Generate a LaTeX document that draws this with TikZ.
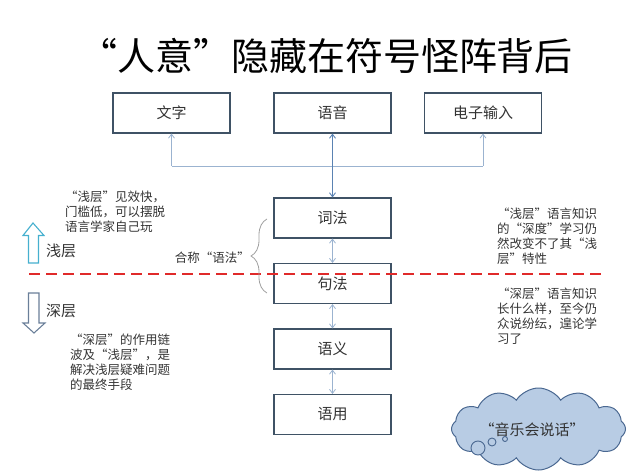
\documentclass[tikz,border=0pt]{standalone}
\usepackage{fontspec}
\setmainfont{Noto Sans CJK SC}
\usetikzlibrary{arrows.meta,shapes.symbols,decorations.pathreplacing}
\definecolor{boxline}{HTML}{3F5265}
\definecolor{connlight}{HTML}{9BB3D0}
\definecolor{connmid}{HTML}{5A82B2}
\definecolor{reddash}{HTML}{E02A2A}
\definecolor{uparrow}{HTML}{46B0CF}
\definecolor{downarrow}{HTML}{6A7F99}
\definecolor{bracecol}{HTML}{A0A0A0}
\definecolor{cloudfill}{HTML}{B8CCE4}
\definecolor{cloudline}{HTML}{4A6891}
\definecolor{txt}{HTML}{333333}
\tikzset{
  stagebox/.style={draw=boxline, line width=1.1pt, fill=white, minimum width=117pt, minimum height=40pt, inner sep=0pt, font=\fontsize{15}{16}\selectfont, text=txt},
  conn/.style={draw=connlight, line width=0.8pt},
  tipup/.style={-{Straight Barb[length=4pt,width=6pt]}},
  dbl/.style={{Straight Barb[length=4pt,width=6pt]}-{Straight Barb[length=4pt,width=6pt]}},
  sidetext/.style={anchor=north west, inner sep=0pt, align=left, font=\fontsize{12.5}{15}\selectfont, text=txt},
  layerlabel/.style={anchor=west, inner sep=0pt, font=\fontsize{15}{16}\selectfont, text=txt},
}
\begin{document}
\begin{tikzpicture}[x=1pt,y=-1pt]
\useasboundingbox (0,0) rectangle (640,476);
% title
\node[inner sep=0pt, font=\fontsize{38}{42}\selectfont, text=black] (title) at (326,56) {“人意”隐藏在符号怪阵背后};
% top boxes
\node[stagebox] (wenzi) at (171.5,113) {文字};
\node[stagebox] (yuyin) at (332.5,113) {语音};
\node[stagebox] (dianzi) at (483,113) {电子输入};
% stack
\node[stagebox] (cifa) at (332.5,218) {词法};
\node[stagebox] (jufa) at (332.5,283.5) {句法};
\node[stagebox] (yuyi) at (332.5,349) {语义};
\node[stagebox] (yuyong) at (332.5,414.5) {语用};
% connectors
\coordinate (j1) at (171.5,166);
\coordinate (j3) at (483,166);
\draw[conn] (j1) -- (j3);
\draw[conn,tipup] (j1) -- (wenzi.south);
\draw[conn,tipup] (j3) -- (dianzi.south);
\draw[draw=connmid, line width=0.9pt, dbl] (yuyin.south) -- (cifa.north);
\draw[conn,dbl] (cifa.south) -- (jufa.north);
\draw[conn,dbl] (jufa.south) -- (yuyi.north);
\draw[conn,dbl] (yuyi.south) -- (yuyong.north);
% red dashed divider
\coordinate (dl) at (29,274);
\coordinate (dr) at (605,274);
\draw[draw=reddash, line width=2.6pt, dash pattern=on 11pt off 6pt] (dl) -- (dr);
% brace
\coordinate (bb) at (267,293);
\coordinate (bt) at (267,219);
\draw[draw=bracecol, line width=0.8pt, decorate, decoration={brace, amplitude=16pt, aspect=0.5}] (bb) -- (bt);
\node[anchor=east, inner sep=0pt, font=\fontsize{12.5}{15}\selectfont, text=txt] (hecheng) at (250,258) {合称“语法”};
% up / down arrows
\draw[draw=uparrow, line width=1.1pt, fill=white] (33,223) -- (44,235.5) -- (38.5,235.5) -- (38.5,263) -- (28.5,263) -- (28.5,235.5) -- (23,235.5) -- cycle;
\node[layerlabel] (qian) at (46,251) {浅层};
\draw[draw=downarrow, line width=1.1pt, fill=white] (28.5,293) -- (39,293) -- (39,323) -- (45,323) -- (34,333) -- (23,323) -- (28.5,323) -- cycle;
\node[layerlabel] (shen) at (46,311) {深层};
% side texts
\node[sidetext] (tl) at (65,191) {“浅层”见效快，\\门槛低，可以摆脱\\语言学家自己玩};
\node[sidetext] (bl) at (70,334) {“深层”的作用链\\波及“浅层”，是\\解决浅层疑难问题\\的最终手段};
\node[sidetext] (tr) at (497,208) {“浅层”语言知识\\的“深度”学习仍\\然改变不了其“浅\\层”特性};
\node[sidetext] (br) at (497,288) {“深层”语言知识\\长什么样，至今仍\\众说纷纭，遑论学\\习了};
% cloud
\node[cloud, cloud puffs=12, cloud puff arc=115, aspect=2.2, draw=cloudline, line width=1pt, fill=cloudfill, minimum width=174pt, minimum height=82pt, inner sep=0pt] (cloud) at (538.5,429) {};
\draw[draw=cloudline, line width=0.9pt, fill=cloudfill] (478,448) circle (7pt);
\draw[draw=cloudline, line width=0.9pt, fill=cloudfill] (492,442) circle (4pt);
\draw[draw=cloudline, line width=0.9pt, fill=cloudfill] (505,439) circle (2.5pt);
\node[inner sep=0pt, font=\fontsize{15}{16}\selectfont, text=txt] (cloudtext) at (532,430) {“音乐会说话”};
\end{tikzpicture}
\end{document}
